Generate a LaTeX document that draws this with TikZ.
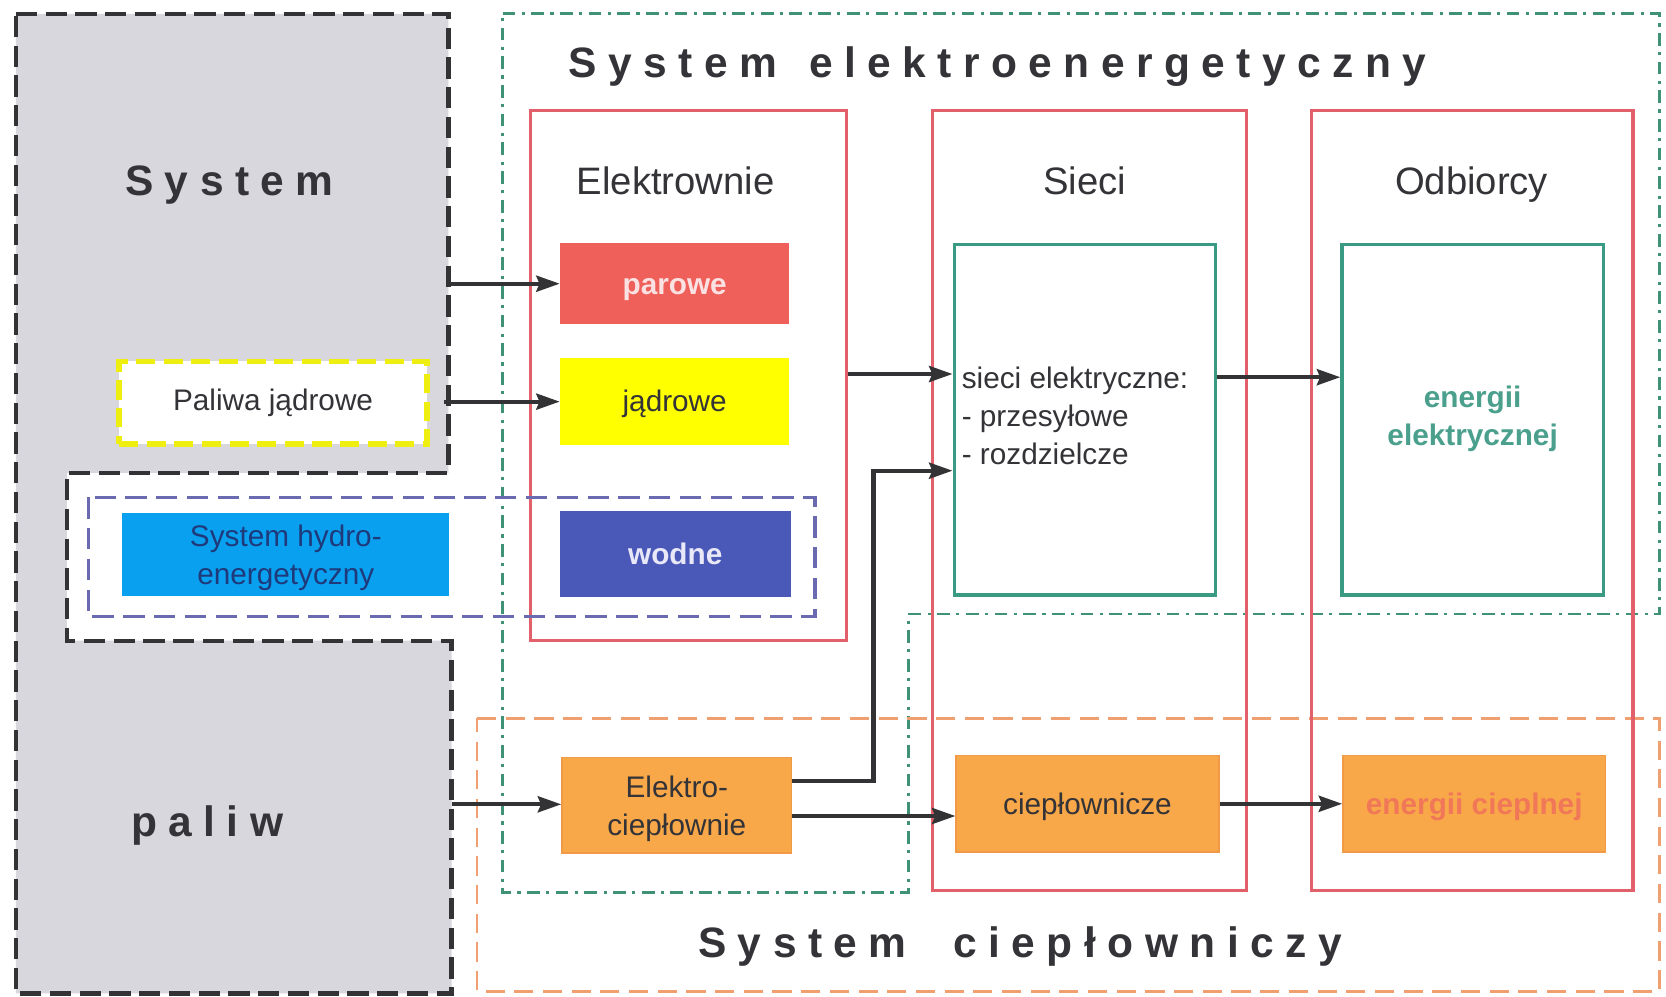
\documentclass[tikz,border=0pt]{standalone}
\usepackage{fontspec}
\setmainfont{Liberation Sans}
\newfontfamily\spacedfont[LetterSpace=27]{Liberation Sans}
\usetikzlibrary{arrows.meta,calc}
\definecolor{grayfill}{HTML}{D7D7DD}
\definecolor{darkdash}{HTML}{333336}
\definecolor{yellowdash}{HTML}{EEEE10}
\definecolor{greendd}{HTML}{3F9276}
\definecolor{innergreen}{HTML}{3A9A84}
\definecolor{redline}{HTML}{E2606A}
\definecolor{parowefill}{HTML}{F0605A}
\definecolor{parowetext}{HTML}{FBE2E2}
\definecolor{yellowfill}{HTML}{FFFF00}
\definecolor{wodnefill}{HTML}{4A58B8}
\definecolor{wodnetext}{HTML}{E8E8F8}
\definecolor{hydrofill}{HTML}{0AA0F0}
\definecolor{hydrotext}{HTML}{1E3A7A}
\definecolor{bluedash}{HTML}{6A6AB0}
\definecolor{orangefill}{HTML}{F8A848}
\definecolor{orangeborder}{HTML}{F09A48}
\definecolor{orangedash}{HTML}{F0A070}
\definecolor{enctext}{HTML}{F07858}
\definecolor{tealtext}{HTML}{4AA08C}
\definecolor{textdark}{HTML}{333338}
\newcommand\smalltxt{\fontsize{28}{35.5}\selectfont}
\newcommand\headtxt{\fontsize{36}{42}\selectfont}
\newcommand\titletxt{\spacedfont\bfseries\fontsize{40}{48}\selectfont}
\begin{document}
\begin{tikzpicture}[x=1pt,y=-1pt,
  every node/.style={text=textdark},
  plainbox/.style={inner sep=0pt},
  onetxt/.style={inner sep=0pt, anchor=base, font=\smalltxt},
  multitxt/.style={inner sep=0pt, align=center, font=\smalltxt},
  redbox/.style={draw=redline, line width=3pt, inner sep=0pt},
  greenbox/.style={draw=innergreen, line width=3pt, inner sep=0pt},
  orangebox/.style={fill=orangefill, draw=orangeborder, line width=1.5pt, inner sep=0pt},
  title/.style={font=\titletxt, anchor=base, inner sep=0pt},
  head/.style={font=\headtxt, anchor=base, inner sep=0pt},
  graydash/.style={draw=darkdash, line width=4pt, dash pattern=on 20pt off 8pt},
  greendashdot/.style={draw=greendd, line width=2.5pt, dash pattern=on 12pt off 6pt on 3pt off 6pt},
  orangedashed/.style={draw=orangedash, line width=2.5pt, dash pattern=on 18pt off 9pt},
  bluedashed/.style={draw=bluedash, line width=3pt, dash pattern=on 20pt off 9pt},
  arr/.style={draw=darkdash, line width=4pt, -{Stealth[length=22pt,width=15pt,inset=3pt]}}
]
\useasboundingbox (0,0) rectangle (1568,938);
\fill[white] (0,0) rectangle (1568,938);

% System paliw (gray region)
\path[fill=grayfill] (15,13) -- (422,13) -- (422,445) -- (63,445) -- (63,603) -- (425,603) -- (425,935) -- (15,935) -- cycle;
\path[graydash] (15,13) -- (422,13) -- (422,445) -- (63,445) -- (63,603) -- (425,603) -- (425,935) -- (15,935) -- cycle;
\node[title] (tsys) at (216,184) {System};
\node[title] (tpaliw) at (195,787) {paliw};

% System elektroenergetyczny (dash-dot)
\path[greendashdot] (473,13) -- (1562,13) -- (1562,578) -- (855,578) -- (855,840) -- (473,840) -- cycle;
\node[title] (tsee) at (939,73) {System\hspace{8pt} elektroenergetyczny};

% System cieplowniczy (orange dashed)
\path[orangedashed] (449,676) -- (1562,676) -- (1562,933) -- (449,933) -- cycle;
\node[title] (tsc) at (960,901) {System\hspace{22pt} ciepłowniczy};

% Red boxes
\node[redbox, minimum width=298pt, minimum height=499pt] (elek) at (648,353.5) {};
\node[redbox, minimum width=295pt, minimum height=734pt] (sieci) at (1025.5,471) {};
\node[redbox, minimum width=303pt, minimum height=734pt] (odb) at (1385.5,471) {};
\node[head] (telek) at (636,183) {Elektrownie};
\node[head] (tsieci) at (1021,183) {Sieci};
\node[head] (todb) at (1385,183) {Odbiorcy};

% Hydro system dashed box
\path[bluedashed] (83,468) rectangle (767,580);
\node[plainbox, fill=hydrofill, minimum width=308pt, minimum height=78pt] (hydro) at (269,522) {};
\node[multitxt, text=hydrotext] (thydro) at (269,525) {System hydro-\\energetyczny};

% Paliwa jadrowe
\node[plainbox, fill=white, draw=yellowdash, line width=5pt, dash pattern=on 18pt off 8pt, minimum width=290pt, minimum height=78pt] (pal) at (257,379) {};
\node[onetxt] (tpal) at (257,386.5) {Paliwa jądrowe};

% Elektrownie inner boxes
\node[plainbox, fill=parowefill, minimum width=216pt, minimum height=76pt] (par) at (635,267) {};
\node[onetxt, text=parowetext, font=\smalltxt\bfseries] (tpar) at (635,277) {parowe};
\node[plainbox, fill=yellowfill, minimum width=216pt, minimum height=82pt] (jad) at (635,378) {};
\node[onetxt] (tjad) at (635,387.5) {jądrowe};
\node[plainbox, fill=wodnefill, minimum width=217pt, minimum height=81pt] (wod) at (635.5,521.5) {};
\node[onetxt, text=wodnetext, font=\smalltxt\bfseries] (twod) at (635.5,531) {wodne};

% Green inner boxes
\node[greenbox, minimum width=246pt, minimum height=330pt] (sin) at (1021,395) {};
\node[greenbox, minimum width=246pt, minimum height=330pt] (oin) at (1386,395) {};
\node[font=\smalltxt, align=left, anchor=base west, inner sep=0pt] (tsin) at (905,437) {sieci elektryczne:\\- przesyłowe\\- rozdzielcze};
\node[multitxt, font=\smalltxt\bfseries, text=tealtext] (toin) at (1386,394) {energii\\elektrycznej};

% Orange boxes
\node[orangebox, minimum width=216pt, minimum height=90pt] (ec) at (637,758) {};
\node[multitxt] (tec) at (637,761) {Elektro-\\ciepłownie};
\node[orangebox, minimum width=247pt, minimum height=91pt] (cpw) at (1023.5,756.5) {};
\node[onetxt] (tcpw) at (1023.5,766.5) {ciepłownicze};
\node[orangebox, minimum width=247pt, minimum height=91pt] (enc) at (1387.5,756.5) {};
\node[onetxt, text=enctext, font=\smalltxt\bfseries] (tenc) at (1387.5,766.5) {energii cieplnej};

% Connector anchors
\coordinate (g1) at (422,267);
\coordinate (g2) at (418,378);
\coordinate (g3) at (425,757);
\coordinate (y1) at (0,352);
\coordinate (y2) at (0,355);
\coordinate (k) at (822,443);

% Arrows
\draw[arr] (g1) -- (par.west |- g1);
\draw[arr] (g2) -- (jad.west |- g2);
\draw[arr] (g3) -- (ec.west |- g3);
\draw[arr] (elek.east |- y1) -- (sin.west |- y1);
\draw[arr] ($(ec.east)+(0,-23)$) -| (k) -- (sin.west |- k);
\draw[arr] ($(ec.east)+(0,10)$) coordinate (e2) -- (cpw.west |- e2);
\draw[arr] (sin.east |- y2) -- (oin.west |- y2);
\draw[arr] (cpw.east) -- (enc.west);
\end{tikzpicture}
\end{document}
